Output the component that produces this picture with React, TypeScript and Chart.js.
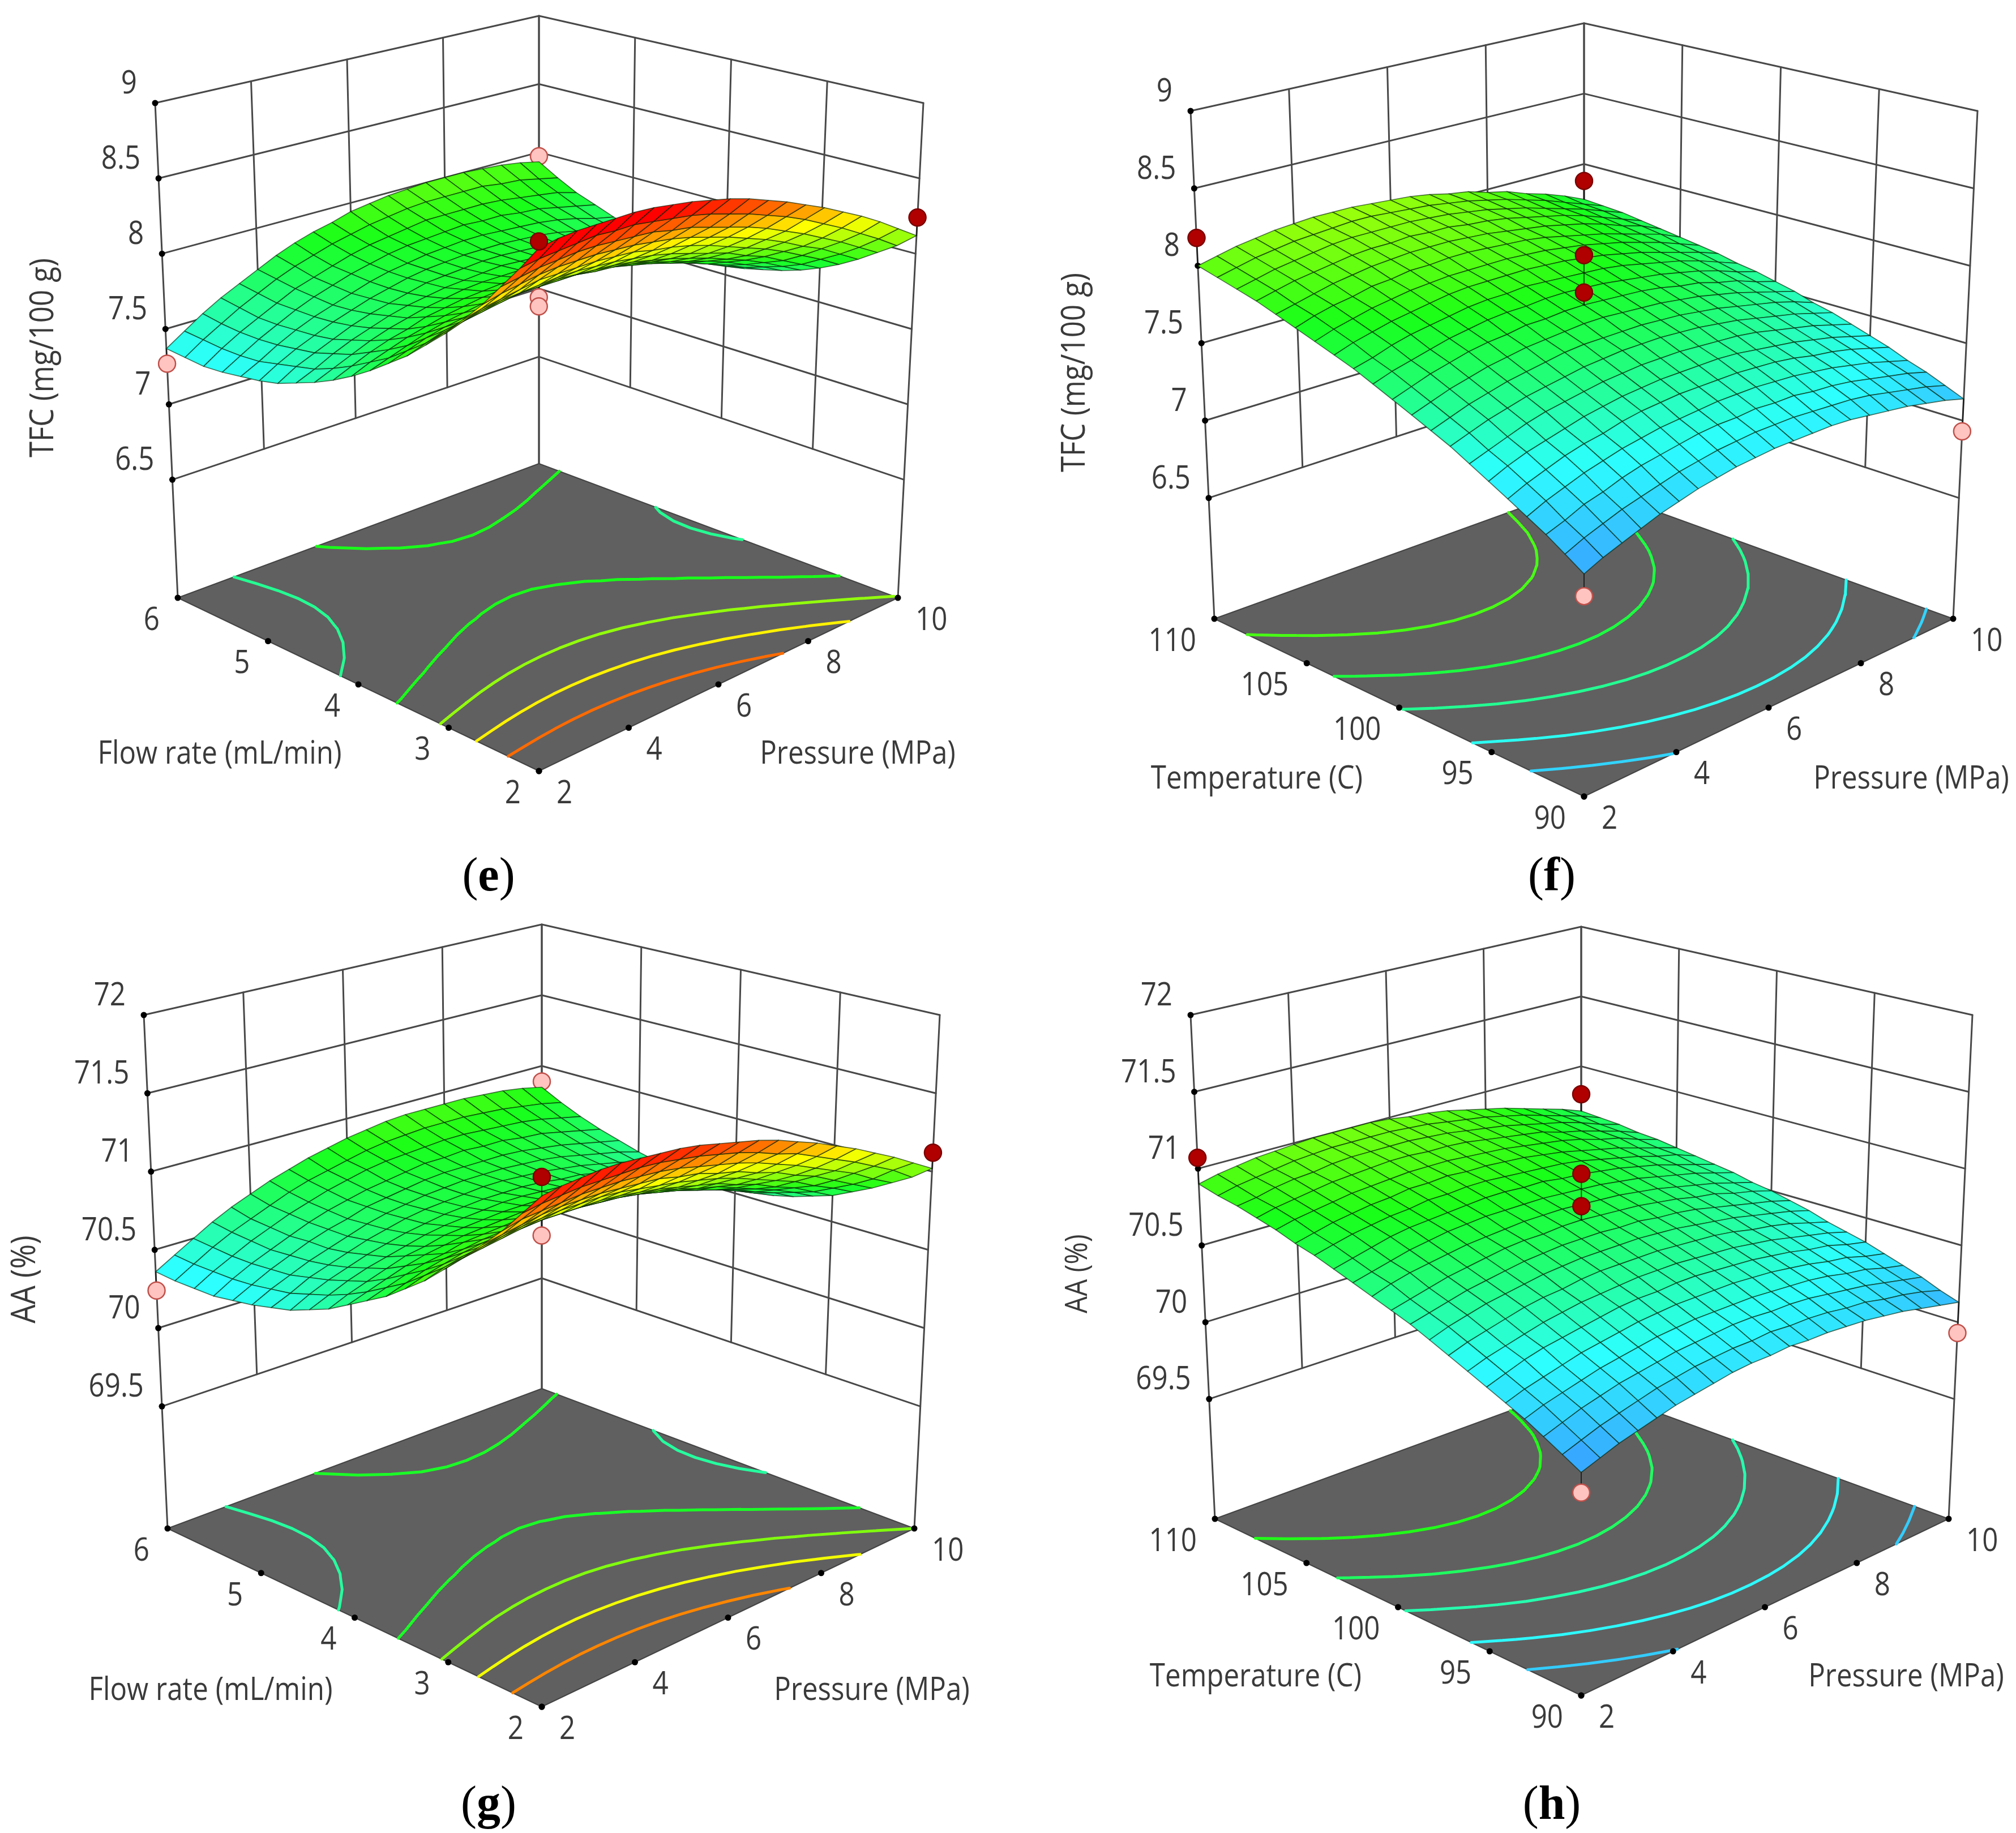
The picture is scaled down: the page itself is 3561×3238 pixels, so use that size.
import React, { useEffect, useRef } from "react";
import { Chart, registerables } from "chart.js";

Chart.register(...registerables);

const PAGE_W = 3561;
const PAGE_H = 3238;

// ---------- data ----------
const flowTicks = [2, 3, 4, 5, 6];
const tempTicks = [90, 95, 100, 105, 110];
const pressureTicks = [2, 4, 6, 8, 10];
const tfcTicks = [6.5, 7, 7.5, 8, 8.5, 9];
const aaTicks = [69.5, 70, 70.5, 71, 71.5, 72];

const levelsE = [7.6, 7.85, 8.1, 8.35, 8.6];
const levelsF = [7.21, 7.4, 7.6, 7.77, 7.945];
const levelsG = [70.57, 70.8, 71.02, 71.24, 71.47];
const levelsH = [70.21, 70.37, 70.54, 70.69, 70.84];

// design points: [factor A, pressure, response]
const darkE = [[2, 2, 8.9], [2, 10, 8.24]];
const paleE = [[6, 2, 7.27], [6, 10, 7.97], [4, 6, 7.77], [4, 6, 7.71]];
const darkF = [[110, 2, 8.18], [110, 10, 7.88], [100, 6, 8.13], [100, 6, 7.89]];
const paleF = [[90, 2, 6.89], [90, 10, 6.93]];
const darkG = [[2, 2, 71.79], [2, 10, 71.12]];
const paleG = [[6, 2, 70.24], [6, 10, 70.89], [4, 6, 70.65]];
const darkH = [[110, 2, 71.07], [110, 10, 70.8], [100, 6, 71.03], [100, 6, 70.82]];
const paleH = [[90, 2, 69.92], [90, 10, 69.93]];

// response surfaces, in hundredths; row = factor A step, column = pressure step
const surfaceE = [
[886,888,889,889,889,889,888,886,884,881,878,874,869,864,858,852,845,838,830,821,812],
[870,872,873,874,875,874,874,872,870,868,865,861,857,852,847,841,834,827,819,811,802],
[855,857,859,860,861,861,860,859,858,855,853,849,845,841,836,830,824,817,810,802,794],
[840,843,845,847,848,848,848,847,846,844,842,839,835,831,826,821,815,808,802,794,786],
[827,830,832,834,836,836,836,836,835,834,831,829,826,822,817,812,807,801,794,787,779],
[814,818,821,823,824,825,826,826,825,824,822,820,817,813,809,805,799,794,787,780,773],
[803,807,810,812,814,816,816,817,816,815,814,812,809,806,802,798,793,788,782,775,768],
[792,796,800,802,805,807,808,808,808,808,806,805,803,800,796,792,788,783,777,771,764],
[783,787,791,794,796,798,800,801,801,801,800,799,797,794,791,787,783,778,773,767,761],
[774,778,782,786,789,791,793,794,795,795,794,793,792,790,787,783,780,775,770,764,758],
[766,771,775,779,782,785,787,789,790,790,790,789,788,786,783,780,777,773,768,763,757],
[759,764,769,773,776,780,782,784,785,786,786,786,785,783,781,778,775,771,767,762,756],
[753,758,763,768,772,775,778,780,782,783,783,783,782,781,779,777,774,771,767,762,757],
[748,753,759,764,768,772,775,777,779,780,781,782,781,780,779,777,774,771,767,763,758],
[743,750,755,760,765,769,772,775,778,779,780,781,781,780,779,777,775,772,769,765,760],
[740,747,753,758,763,767,771,774,777,779,780,781,781,781,780,779,777,774,771,768,763],
[738,744,751,757,762,766,770,774,777,779,781,782,783,783,782,781,780,778,775,771,768],
[736,743,750,756,762,767,771,775,778,781,783,784,785,786,785,785,783,782,779,776,773],
[735,743,750,756,762,768,772,776,780,783,785,787,789,789,789,789,788,786,784,782,778],
[736,744,751,758,764,770,775,779,783,786,789,791,793,794,794,794,794,792,791,788,785],
[737,745,753,760,766,772,778,783,787,790,794,796,798,799,800,800,800,799,798,796,793],
];
const surfaceF = [
[702,707,711,715,719,722,725,727,729,730,731,731,731,731,730,728,726,724,721,718,714],
[709,714,718,722,725,728,731,733,735,736,737,737,737,736,735,734,732,729,726,723,719],
[716,720,725,728,732,735,737,739,741,742,742,743,742,742,740,739,737,734,731,728,724],
[722,727,731,735,738,741,743,745,746,747,748,748,748,747,746,744,742,739,736,732,728],
[728,733,737,741,744,746,749,751,752,753,753,753,753,752,751,749,746,744,741,737,733],
[734,739,743,746,749,752,754,756,757,758,758,758,758,757,755,753,751,748,745,741,737],
[740,744,748,752,755,757,759,761,762,763,763,763,762,761,760,758,755,752,749,745,741],
[746,750,754,757,760,762,764,766,767,768,768,768,767,766,764,762,759,756,753,749,745],
[751,755,759,762,765,767,769,771,772,772,772,772,771,770,768,766,763,760,757,753,748],
[756,760,764,767,770,772,774,775,776,777,777,776,775,774,772,770,767,764,760,756,752],
[761,765,769,772,775,777,778,780,780,781,781,780,779,778,776,773,771,767,764,759,755],
[766,770,773,776,779,781,783,784,784,785,785,784,783,781,779,777,774,771,767,762,758],
[771,774,778,781,783,785,787,788,788,789,788,787,786,785,783,780,777,774,770,765,760],
[775,779,782,785,787,789,791,792,792,792,792,791,790,788,786,783,780,776,772,768,763],
[779,783,786,789,791,793,794,795,795,795,795,794,793,791,789,786,783,779,775,770,765],
[783,787,790,792,795,796,798,798,799,799,798,797,796,794,791,788,785,781,777,773,767],
[787,790,793,796,798,800,801,802,802,802,801,800,798,796,794,791,788,784,779,775,769],
[791,794,797,799,801,803,804,804,805,804,804,802,801,799,796,793,790,786,781,776,771],
[794,797,800,802,804,806,807,807,807,807,806,805,803,801,798,795,791,787,783,778,773],
[797,800,803,805,807,808,809,810,810,809,808,807,805,803,800,797,793,789,784,779,774],
[800,803,806,808,810,811,812,812,812,811,810,809,807,804,802,798,795,790,786,781,775],
];
const surfaceG = [
[7168,7170,7171,7172,7172,7171,7170,7169,7167,7164,7161,7158,7154,7149,7144,7138,7132,7125,7118,7110,7102],
[7154,7156,7157,7158,7158,7158,7158,7157,7155,7153,7150,7147,7143,7138,7134,7128,7122,7116,7109,7102,7093],
[7140,7143,7144,7145,7146,7146,7146,7145,7144,7142,7139,7136,7133,7129,7124,7119,7113,7107,7101,7093,7086],
[7128,7130,7132,7134,7135,7135,7135,7134,7133,7132,7129,7127,7123,7120,7115,7111,7105,7100,7093,7086,7079],
[7116,7119,7121,7123,7124,7125,7125,7125,7124,7122,7120,7118,7115,7112,7108,7103,7098,7093,7086,7080,7073],
[7105,7108,7110,7112,7114,7115,7115,7115,7115,7114,7112,7110,7107,7104,7101,7096,7092,7086,7081,7074,7067],
[7094,7098,7101,7103,7105,7106,7107,7107,7107,7106,7105,7103,7101,7098,7094,7091,7086,7081,7076,7070,7063],
[7085,7089,7092,7095,7097,7098,7099,7100,7100,7099,7098,7097,7095,7092,7089,7085,7081,7077,7071,7066,7059],
[7076,7080,7084,7087,7089,7091,7092,7093,7094,7093,7093,7091,7090,7087,7084,7081,7077,7073,7068,7062,7056],
[7069,7073,7077,7080,7082,7085,7086,7087,7088,7088,7088,7087,7085,7083,7081,7078,7074,7070,7065,7060,7054],
[7062,7066,7070,7074,7077,7079,7081,7082,7083,7084,7084,7083,7082,7080,7078,7075,7072,7068,7063,7058,7053],
[7055,7060,7064,7068,7072,7074,7077,7078,7079,7080,7080,7080,7079,7077,7075,7073,7070,7066,7062,7058,7053],
[7050,7055,7060,7064,7067,7070,7073,7075,7076,7077,7078,7078,7077,7076,7074,7072,7069,7066,7062,7058,7053],
[7045,7051,7056,7060,7064,7067,7070,7072,7074,7075,7076,7076,7076,7075,7073,7072,7069,7066,7063,7059,7054],
[7042,7047,7053,7057,7061,7065,7068,7071,7073,7074,7075,7076,7076,7075,7074,7072,7070,7067,7064,7060,7056],
[7039,7045,7050,7055,7059,7063,7067,7070,7072,7074,7075,7076,7076,7076,7075,7074,7072,7069,7066,7063,7059],
[7037,7043,7049,7054,7059,7063,7066,7070,7072,7074,7076,7077,7077,7077,7077,7076,7074,7072,7069,7066,7063],
[7035,7042,7048,7053,7058,7063,7067,7070,7073,7075,7077,7079,7079,7080,7079,7079,7077,7076,7073,7070,7067],
[7035,7042,7048,7054,7059,7064,7068,7072,7075,7078,7080,7081,7082,7083,7083,7082,7081,7080,7078,7075,7072],
[7035,7042,7049,7055,7060,7065,7070,7074,7077,7080,7083,7085,7086,7087,7087,7087,7086,7085,7083,7081,7078],
[7036,7043,7050,7057,7063,7068,7073,7077,7081,7084,7087,7089,7091,7092,7092,7092,7092,7091,7090,7088,7085],
];
const surfaceH = [
[7004,7008,7012,7015,7018,7021,7023,7025,7027,7028,7028,7029,7028,7028,7027,7026,7024,7022,7019,7016,7013],
[7010,7014,7018,7021,7024,7027,7029,7031,7032,7033,7033,7034,7033,7033,7032,7030,7029,7026,7024,7021,7017],
[7016,7020,7024,7027,7030,7032,7034,7036,7037,7038,7039,7039,7038,7038,7037,7035,7033,7031,7028,7025,7022],
[7022,7026,7029,7032,7035,7037,7039,7041,7042,7043,7043,7043,7043,7042,7041,7040,7038,7035,7033,7029,7026],
[7027,7031,7034,7037,7040,7042,7044,7046,7047,7048,7048,7048,7048,7047,7046,7044,7042,7039,7037,7033,7030],
[7032,7036,7040,7043,7045,7047,7049,7051,7052,7052,7053,7053,7052,7051,7050,7048,7046,7043,7041,7037,7034],
[7037,7041,7044,7047,7050,7052,7054,7055,7056,7057,7057,7057,7056,7055,7054,7052,7050,7047,7044,7041,7037],
[7042,7046,7049,7052,7055,7057,7058,7060,7061,7061,7061,7061,7060,7059,7058,7056,7053,7051,7048,7044,7040],
[7047,7051,7054,7057,7059,7061,7063,7064,7065,7065,7065,7065,7064,7063,7061,7059,7057,7054,7051,7048,7044],
[7052,7055,7058,7061,7063,7065,7067,7068,7069,7069,7069,7068,7068,7066,7065,7063,7060,7057,7054,7051,7047],
[7056,7059,7062,7065,7067,7069,7071,7072,7072,7073,7073,7072,7071,7070,7068,7066,7063,7061,7057,7054,7050],
[7060,7064,7067,7069,7071,7073,7074,7075,7076,7076,7076,7075,7074,7073,7071,7069,7066,7063,7060,7056,7052],
[7064,7067,7070,7073,7075,7077,7078,7079,7079,7079,7079,7078,7077,7076,7074,7072,7069,7066,7063,7059,7055],
[7068,7071,7074,7077,7079,7080,7081,7082,7083,7083,7082,7082,7080,7079,7077,7075,7072,7069,7065,7061,7057],
[7072,7075,7078,7080,7082,7083,7085,7085,7086,7086,7085,7084,7083,7082,7080,7077,7074,7071,7067,7064,7059],
[7075,7078,7081,7083,7085,7086,7088,7088,7089,7088,7088,7087,7086,7084,7082,7079,7076,7073,7069,7065,7061],
[7079,7082,7084,7086,7088,7089,7090,7091,7091,7091,7090,7089,7088,7086,7084,7082,7079,7075,7072,7067,7063],
[7082,7085,7087,7089,7091,7092,7093,7094,7094,7093,7093,7092,7090,7088,7086,7084,7080,7077,7073,7069,7064],
[7085,7087,7090,7092,7093,7095,7096,7096,7096,7096,7095,7094,7092,7090,7088,7085,7082,7079,7075,7070,7066],
[7087,7090,7092,7094,7096,7097,7098,7098,7098,7098,7097,7096,7094,7092,7090,7087,7084,7080,7076,7072,7067],
[7090,7093,7095,7097,7098,7099,7100,7100,7100,7100,7099,7097,7096,7094,7091,7088,7085,7081,7077,7073,7068],
];

// ---------- layout and style ----------
type P = { x: number; y: number };
const pt = (x: number, y: number): P => ({ x, y });

const LABEL_FONT = '"Open Sans", sans-serif';
const LABEL_SIZE = 56;
const LABEL_SQUEEZE = 0.88;
const LABEL_COLOR = "#3a3a3a";

const panels = [
  {
    caption: "e", captionAt: pt(863, 1551),
    aName: "Flow rate (mL/min)", aAt: pt(388, 1333), pAt: pt(1515, 1333),
    zName: "TFC (mg/100 g)", zAt: pt(77, 632), zSize: 58,
    aTicks: flowTicks, zTicks: tfcTicks, surface: surfaceE, levels: levelsE, dark: darkE, pale: paleE,
    zFloor: 5.716, cmap: [6.9, 8.8],
    floor: [pt(952, 1362), pt(314, 1056), pt(952, 819), pt(1586, 1056)],
    top: [pt(952, 397), pt(274, 182), pt(952, 28), pt(1631, 182)],
    clipY: 9999,
  },
  {
    caption: "f", captionAt: pt(2741, 1551),
    aName: "Temperature (C)", aAt: pt(2220, 1377), pAt: pt(3376, 1377),
    zName: "TFC (mg/100 g)", zAt: pt(1899, 658), zSize: 58,
    aTicks: tempTicks, zTicks: tfcTicks, surface: surfaceF, levels: levelsF, dark: darkF, pale: paleF,
    zFloor: 5.72, cmap: [6.9, 8.8],
    floor: [pt(2798, 1407), pt(2145, 1093), pt(2798, 857), pt(3450, 1093)],
    top: [pt(2798, 415), pt(2103, 196), pt(2798, 41), pt(3493, 196)],
    clipY: 1465,
  },
  {
    caption: "g", captionAt: pt(863, 3191),
    aName: "Flow rate (mL/min)", aAt: pt(372, 2987), pAt: pt(1540, 2987),
    zName: "AA (%)", zAt: pt(45, 2260), zSize: 60,
    aTicks: flowTicks, zTicks: aaTicks, surface: surfaceG, levels: levelsG, dark: darkG, pale: paleG,
    zFloor: 68.72, cmap: [69.95, 71.7],
    floor: [pt(957, 3015), pt(296, 2700), pt(957, 2453), pt(1615, 2700)],
    top: [pt(957, 2015), pt(254, 1793), pt(957, 1633), pt(1660, 1793)],
    clipY: 9999,
  },
  {
    caption: "h", captionAt: pt(2741, 3191),
    aName: "Temperature (C)", aAt: pt(2218, 2963), pAt: pt(3367, 2963),
    zName: "AA (%)", zAt: pt(1905, 2250), zSize: 54,
    aTicks: tempTicks, zTicks: aaTicks, surface: surfaceH, levels: levelsH, dark: darkH, pale: paleH,
    zFloor: 68.72, cmap: [69.95, 71.7],
    floor: [pt(2793, 2995), pt(2146, 2683), pt(2793, 2446), pt(3442, 2683)],
    top: [pt(2793, 2016), pt(2103, 1793), pt(2793, 1637), pt(3484, 1793)],
    clipY: 9999,
  },
];

const COLOR_STOPS = [
  [60, 130, 255],
  [45, 255, 255],
  [25, 255, 25],
  [255, 255, 0],
  [255, 0, 0],
];

function colorAt(t: number) {
  const c = Math.max(0, Math.min(0.9999, t)) * (COLOR_STOPS.length - 1);
  const i = Math.floor(c);
  const f = c - i;
  const m = COLOR_STOPS[i].map((v, k) => Math.round(v + (COLOR_STOPS[i + 1][k] - v) * f));
  return `rgb(${m[0]},${m[1]},${m[2]})`;
}

// unit square (u,v) onto a quadrilateral: the tick marks of the picture are evenly spaced along every edge
function quadMap(q: P[]) {
  const [p0, p1, p2, p3] = q;
  return (u: number, v: number): P => ({
    x: (1 - u) * (1 - v) * p0.x + u * (1 - v) * p1.x + u * v * p2.x + (1 - u) * v * p3.x,
    y: (1 - u) * (1 - v) * p0.y + u * (1 - v) * p1.y + u * v * p2.y + (1 - u) * v * p3.y,
  });
}

// light smoothing of the rounded table so contour lines do not wobble
function smoothed(table: number[][]) {
  const n = table.length;
  const at = (t: number[][], i: number, j: number): number => {
    if (i < 0) return 2 * at(t, 0, j) - at(t, 1, j);
    if (i >= n) return 2 * at(t, n - 1, j) - at(t, n - 2, j);
    if (j < 0) return 2 * t[i][0] - t[i][1];
    if (j >= n) return 2 * t[i][n - 1] - t[i][n - 2];
    return t[i][j];
  };
  let cur = table;
  for (let pass = 0; pass < 3; pass++) {
    const src = cur;
    cur = src.map((row, i) =>
      row.map((_, j) => {
        let s = 0;
        for (let a = -1; a <= 1; a++) for (let b = -1; b <= 1; b++) s += at(src, i + a, j + b);
        return s / 9;
      })
    );
  }
  return cur;
}

function contourPieces(table: number[][], level: number) {
  const n = table.length - 1;
  const out: { u: number; v: number }[][] = [];
  for (let i = 0; i < n; i++) {
    for (let j = 0; j < n; j++) {
      const c = [
        [i, j, table[i][j]], [i + 1, j, table[i + 1][j]],
        [i + 1, j + 1, table[i + 1][j + 1]], [i, j + 1, table[i][j + 1]],
      ];
      const hits: { u: number; v: number }[] = [];
      for (let k = 0; k < 4; k++) {
        const a = c[k], b = c[(k + 1) % 4];
        if (a[2] < level !== b[2] < level) {
          const f = (level - a[2]) / (b[2] - a[2]);
          hits.push({ u: (a[0] + (b[0] - a[0]) * f) / n, v: (a[1] + (b[1] - a[1]) * f) / n });
        }
      }
      if (hits.length >= 2) out.push([hits[0], hits[1]]);
      if (hits.length === 4) out.push([hits[2], hits[3]]);
    }
  }
  return out;
}

function buildDatasets() {
  const paint: any[] = [];
  const line = (pts: P[], color: string, width: number, extra: any = {}) =>
    paint.push({
      data: pts, showLine: true, borderColor: color, borderWidth: width, pointRadius: 0, tension: 0,
      borderCapStyle: "round", borderJoinStyle: "round", ...extra,
    });
  const marks = (pts: P[], radius: number, fill: string, edge: string, edgeW: number) =>
    paint.push({
      data: pts, showLine: false, pointRadius: radius, pointBackgroundColor: fill,
      pointBorderColor: edge, pointBorderWidth: edgeW,
    });

  for (const p of panels) {
    const floorAt = quadMap(p.floor);
    const topAt = quadMap(p.top);
    const zMax = p.zTicks[p.zTicks.length - 1];
    const zMin = p.zTicks[0];
    const proj = (u: number, v: number, z: number): P => {
      const a = floorAt(u, v), b = topAt(u, v);
      const s = (z - p.zFloor) / (zMax - p.zFloor);
      return { x: a.x + (b.x - a.x) * s, y: a.y + (b.y - a.y) * s };
    };
    const aLo = p.aTicks[0], aHi = p.aTicks[p.aTicks.length - 1];
    const pLo = pressureTicks[0], pHi = pressureTicks[pressureTicks.length - 1];
    const uOf = (a: number) => (a - aLo) / (aHi - aLo);
    const vOf = (q: number) => (q - pLo) / (pHi - pLo);
    const zColor = (z: number) => colorAt((z - p.cmap[0]) / (p.cmap[1] - p.cmap[0]));
    const n = p.surface.length - 1;
    const zAt = (i: number, j: number) => p.surface[i][j] / 100;
    const wall = "#484848";
    const wallW = 3;

    // walls
    for (const z of p.zTicks) {
      line([proj(1, 0, z), proj(1, 1, z), proj(0, 1, z)], wall, wallW);
    }
    for (const q of pressureTicks) {
      const v = vOf(q);
      const low = v === 0 || v === 1 ? p.zFloor : zMin;
      line([proj(1, v, low), proj(1, v, zMax)], wall, wallW);
    }
    for (const a of p.aTicks) {
      const u = uOf(a);
      const low = u === 0 || u === 1 ? p.zFloor : zMin;
      line([proj(u, 1, low), proj(u, 1, zMax)], wall, wallW);
    }

    // floor
    const f = [floorAt(0, 0), floorAt(1, 0), floorAt(1, 1), floorAt(0, 1), floorAt(0, 0)];
    line(f, "#444444", 2, { fill: "shape", backgroundColor: "#606060" });

    // contours on the floor
    const soft = smoothed(p.surface.map((r) => r.map((v) => v / 100)));
    for (const level of p.levels) {
      const pts: P[] = [];
      for (const piece of contourPieces(soft, level)) {
        pts.push(floorAt(piece[0].u, piece[0].v), floorAt(piece[1].u, piece[1].v), { x: NaN, y: NaN });
      }
      line(pts, zColor(level), 5, { spanGaps: false });
    }

    // axis tick marks
    const tickDots: P[] = [];
    for (const a of p.aTicks) tickDots.push(floorAt(uOf(a), 0));
    for (const q of pressureTicks) tickDots.push(floorAt(0, vOf(q)));
    for (const z of p.zTicks) tickDots.push(proj(1, 0, z));
    marks(tickDots, 5.5, "#000000", "#000000", 0);

    const stem = (d: number[]) => {
      const u = uOf(d[0]), v = vOf(d[1]);
      line([proj(u, v, d[2]), proj(u, v, zAt(Math.round(u * n), Math.round(v * n)))], "rgba(0,0,0,0.65)", 2);
    };

    // points below the surface
    p.pale.forEach(stem);
    marks(p.pale.map((d) => proj(uOf(d[0]), vOf(d[1]), d[2])), 15, "#ffc4c0", "#c0504a", 2.5);

    // surface, far cells first
    for (let i = n - 1; i >= 0; i--) {
      for (let j = n - 1; j >= 0; j--) {
        const mean = (zAt(i, j) + zAt(i + 1, j) + zAt(i + 1, j + 1) + zAt(i, j + 1)) / 4;
        const cell = [
          proj(i / n, j / n, zAt(i, j)),
          proj((i + 1) / n, j / n, zAt(i + 1, j)),
          proj((i + 1) / n, (j + 1) / n, zAt(i + 1, j + 1)),
          proj(i / n, (j + 1) / n, zAt(i, j + 1)),
          proj(i / n, j / n, zAt(i, j)),
        ];
        line(cell, "rgba(0,30,0,0.62)", 1.7, { fill: "shape", backgroundColor: zColor(mean) });
      }
    }

    // points above the surface
    p.dark.forEach(stem);
    marks(p.dark.map((d) => proj(uOf(d[0]), vOf(d[1]), d[2])), 15, "#b00000", "#7a0000", 2.5);
  }
  return paint.reverse();
}

function textAt(ctx: any, text: string, x: number, y: number, align: string, size: number, rot = 0) {
  ctx.save();
  ctx.translate(x, y);
  if (rot) ctx.rotate(rot);
  ctx.scale(LABEL_SQUEEZE, 1);
  ctx.font = `${size}px ${LABEL_FONT}`;
  ctx.fillStyle = LABEL_COLOR;
  ctx.textAlign = align;
  ctx.textBaseline = "middle";
  ctx.fillText(text, 0, 0);
  ctx.restore();
}

const labelPlugin = {
  id: "panelLabels",
  afterDraw(chart: any) {
    const ctx = chart.ctx;
    const sx = chart.scales.x, sy = chart.scales.y;
    const px = (q: P) => ({ x: sx.getPixelForValue(q.x), y: sy.getPixelForValue(q.y) });
    for (const p of panels) {
      const floorAt = quadMap(p.floor);
      const topAt = quadMap(p.top);
      const zMax = p.zTicks[p.zTicks.length - 1];
      const aLo = p.aTicks[0], aHi = p.aTicks[p.aTicks.length - 1];
      ctx.save();
      ctx.beginPath();
      ctx.rect(0, 0, PAGE_W, p.clipY);
      ctx.clip();
      for (const z of p.zTicks) {
        const a = floorAt(1, 0), b = topAt(1, 0);
        const s = (z - p.zFloor) / (zMax - p.zFloor);
        const q = px({ x: a.x + (b.x - a.x) * s, y: a.y + (b.y - a.y) * s });
        textAt(ctx, String(z), q.x - 32, q.y - 33, "right", LABEL_SIZE);
      }
      for (const a of p.aTicks) {
        const q = px(floorAt((a - aLo) / (aHi - aLo), 0));
        textAt(ctx, String(a), q.x - 32, q.y + 41, "right", LABEL_SIZE);
      }
      for (const t of pressureTicks) {
        const q = px(floorAt(0, (t - 2) / 8));
        textAt(ctx, String(t), q.x + 31, q.y + 41, "left", LABEL_SIZE);
      }
      ctx.restore();
      const aq = px(p.aAt), pq = px(p.pAt), zq = px(p.zAt), cq = px(p.captionAt);
      textAt(ctx, p.aName, aq.x, aq.y, "center", LABEL_SIZE);
      textAt(ctx, "Pressure (MPa)", pq.x, pq.y, "center", LABEL_SIZE);
      textAt(ctx, p.zName, zq.x, zq.y, "center", p.zSize, -Math.PI / 2);

      // caption: "(e)" with a bold letter
      ctx.save();
      ctx.fillStyle = "#000000";
      ctx.textBaseline = "middle";
      ctx.textAlign = "left";
      const serif = '"Liberation Serif", serif';
      ctx.font = `84px ${serif}`;
      const open = ctx.measureText("(").width;
      ctx.font = `bold 84px ${serif}`;
      const mid = ctx.measureText(p.caption).width;
      const x0 = cq.x - (open * 2 + mid) / 2;
      ctx.font = `84px ${serif}`;
      ctx.fillText("(", x0, cq.y);
      ctx.fillText(")", x0 + open + mid, cq.y);
      ctx.font = `bold 84px ${serif}`;
      ctx.fillText(p.caption, x0 + open, cq.y);
      ctx.restore();
    }
  },
};

export default function App() {
  const ref = useRef<HTMLCanvasElement | null>(null);
  useEffect(() => {
    if (!ref.current) return;
    const hidden = { display: false, ticks: { display: false }, grid: { display: false }, border: { display: false } };
    const chart = new Chart(ref.current, {
      type: "scatter",
      data: { datasets: buildDatasets() },
      options: {
        animation: false,
        responsive: false,
        devicePixelRatio: 1,
        events: [],
        layout: { padding: 0, autoPadding: false },
        scales: {
          x: { type: "linear", min: 0, max: PAGE_W, ...hidden },
          y: { type: "linear", min: 0, max: PAGE_H, reverse: true, ...hidden },
        },
        plugins: { legend: { display: false }, tooltip: { enabled: false }, title: { display: false } },
      },
      plugins: [labelPlugin],
    } as any);
    return () => chart.destroy();
  }, []);
  return (
    <div style={{ position: "absolute", left: 0, top: 0, width: PAGE_W, height: PAGE_H, background: "#ffffff" }}>
      <canvas ref={ref} width={PAGE_W} height={PAGE_H} style={{ display: "block" }} />
    </div>
  );
}
